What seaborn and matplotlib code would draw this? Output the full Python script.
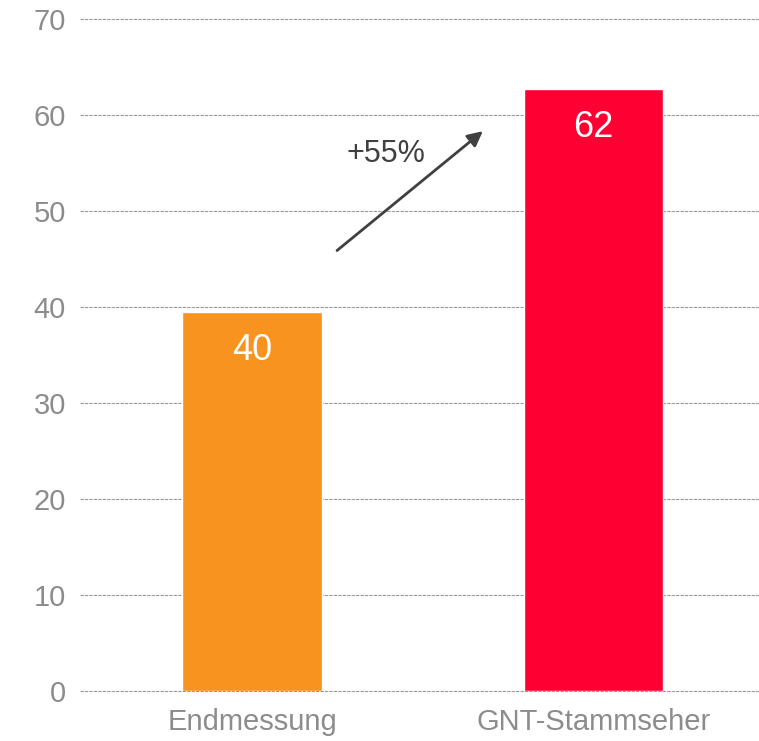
import matplotlib
matplotlib.use("Agg")
import matplotlib.pyplot as plt
import seaborn as sns
import pandas as pd

categories = ["Endmessung", "GNT-Stammseher"]
values = [39.5, 62.7]
value_labels = ["40", "62"]
bar_colors = ["#F7931E", "#FF0033"]
growth_label = "+55%"

sns.set_style("white")
plt.rcParams["font.family"] = ["Liberation Sans", "DejaVu Sans"]

df = pd.DataFrame({"Kategorie": categories, "Wert": values})

fig = plt.figure(figsize=(7.59, 7.41), dpi=100)
ax = fig.add_axes([80 / 759, 50 / 741, 679 / 759, 672 / 741])

sns.barplot(data=df, x="Kategorie", y="Wert", hue="Kategorie", palette=bar_colors,
            width=0.41, legend=False, ax=ax, saturation=1)

ax.set_ylim(0, 70)
ax.set_xlim(-0.505, 1.485)
ax.set_yticks(range(0, 71, 10))
ax.yaxis.grid(True, linestyle=(0, (3, 1)), color="#999999", linewidth=0.8)
for gl in ax.get_ygridlines():
    gl.set_clip_on(False)
ax.set_axisbelow(True)
for s in ax.spines.values():
    s.set_visible(False)
ax.set_xlabel("")
ax.set_ylabel("")
ax.tick_params(axis="y", labelsize=21, labelcolor="#8c8c8c", length=0, pad=10)
ax.tick_params(axis="x", labelsize=21, labelcolor="#8c8c8c", length=0, pad=12)

# Werte in den Balken
for i, (v, lab) in enumerate(zip(values, value_labels)):
    ax.text(i, v - 4, lab, ha="center", va="center", color="white", fontsize=26)

# Pfeil mit Zuwachs
ax.annotate("", xy=(0.682, 58.5), xytext=(0.242, 45.7),
            arrowprops=dict(arrowstyle="-|>,head_length=0.9,head_width=0.45",
                            color="#404040", lw=2))
ax.text(0.392, 55.9, growth_label, ha="center", va="center", color="#404040", fontsize=22)

fig.savefig("out.png", dpi=100)
